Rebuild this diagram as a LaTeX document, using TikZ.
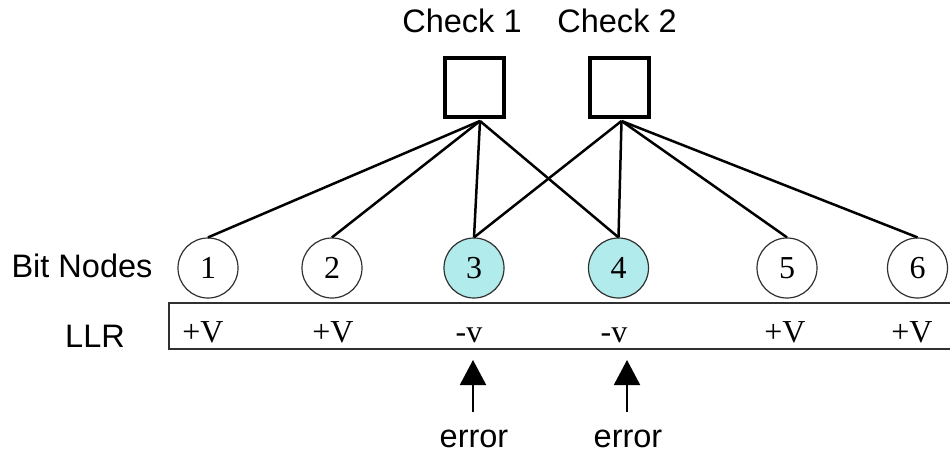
\documentclass[tikz,border=0pt]{standalone}
\usepackage{fontspec}
\setmainfont{Liberation Serif}
\setsansfont{Liberation Sans}
\usetikzlibrary{arrows.meta}
\definecolor{bitfill}{HTML}{B2EBEB}
\definecolor{rimgray}{HTML}{303030}

\begin{document}
\begin{tikzpicture}[x=1pt,y=-1pt,
  sanslabel/.style={font=\sffamily\fontsize{32.5}{32.5}\selectfont, anchor=base, inner sep=0pt},
  serifval/.style={font=\fontsize{32}{32}\selectfont, anchor=base, inner sep=0pt},
  checkbox/.style={draw=black, line width=4pt, minimum size=59pt, inner sep=0pt},
  bitnode/.style={circle, draw=rimgray, line width=1.2pt, minimum size=60pt, inner sep=0pt,
                  font=\fontsize{32}{32}\selectfont},
  flagged/.style={bitnode, fill=bitfill},
  edge/.style={draw=black, line width=2.5pt},
  boxline/.style={draw=rimgray, line width=1.5pt},
  errarrow/.style={draw=black, line width=2pt, -{Triangle[width=26pt,length=25pt]}}]

\useasboundingbox (0,0) rectangle (950,452);
\clip (0,0) rectangle (950,452);

% check nodes and their titles
\node[checkbox] (c1) at (474.5,87.5) {};
\node[checkbox] (c2) at (619,87.5) {};
\node[sanslabel] (t1) at (462,33) {Check 1};
\node[sanslabel] (t2) at (617,33) {Check 2};

% bit nodes
\node[bitnode] (b1) at (208,268) {1};
\node[bitnode] (b2) at (332,268) {2};
\node[flagged] (b3) at (474,268) {3};
\node[flagged] (b4) at (618.5,268) {4};
\node[bitnode] (b5) at (787,268) {5};
\node[bitnode] (b6) at (917.5,268) {6};

% row labels
\node[sanslabel] (rowbits) at (82,277) {Bit Nodes};
\node[sanslabel] (rowllr) at (95,347) {LLR};

% LLR strip, open towards the right edge
\draw[boxline] (956,303) -- (169,303) -- (169,349) -- (956,349);
\node[serifval] (v1) at (203,342) {+V};
\node[serifval] (v2) at (333,342) {+V};
\node[serifval] (v3) at (469,342) {-v};
\node[serifval] (v4) at (614,342) {-v};
\node[serifval] (v5) at (785,342) {+V};
\node[serifval] (v6) at (912,342) {+V};

% parity check connections
\foreach \b in {b1,b2,b3,b4}
  \draw[edge] ([xshift=5.5pt,yshift=-2pt]c1.south) -- (\b.north);
\foreach \b in {b3,b4,b5,b6}
  \draw[edge] ([xshift=2.5pt,yshift=-2pt]c2.south) -- (\b.north);

% error markers
\node[sanslabel] (er1) at (474,447) {error};
\node[sanslabel] (er2) at (628,447) {error};
\coordinate (tip1) at (473,360);
\coordinate (tip2) at (627,360);
\draw[errarrow, shorten <=17pt] (er1.north -| tip1) -- (tip1);
\draw[errarrow, shorten <=17pt] (er2.north -| tip2) -- (tip2);
\end{tikzpicture}
\end{document}
